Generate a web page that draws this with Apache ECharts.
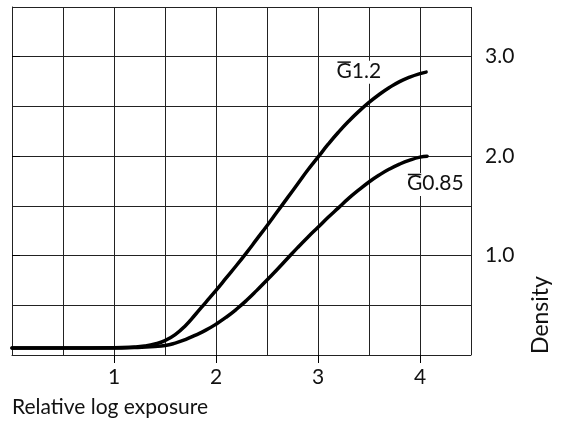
<!DOCTYPE html>
<html>
<head>
<meta charset="utf-8">
<script src="https://cdn.jsdelivr.net/npm/echarts@6/dist/echarts.min.js"></script>
<style>html,body{margin:0;padding:0;background:#fff}#c{width:562px;height:422px}</style>
</head>
<body>
<div id="c"></div>
<script>
// G1.2 curve (relative log exposure, density)
const g12X = [0, 0.5, 1.0, 1.2, 1.3, 1.4, 1.5, 1.6, 1.7, 1.8, 1.9, 2.0, 2.1, 2.2, 2.3, 2.4, 2.5, 2.6, 2.7, 2.8, 2.9, 3.0, 3.1, 3.2, 3.3, 3.4, 3.5, 3.6, 3.7, 3.8, 3.9, 4.0, 4.06];
const g12Y = [0.07, 0.07, 0.072, 0.08, 0.09, 0.11, 0.145, 0.205, 0.295, 0.41, 0.53, 0.65, 0.775, 0.9, 1.03, 1.165, 1.3, 1.44, 1.58, 1.72, 1.86, 1.99, 2.12, 2.24, 2.35, 2.45, 2.54, 2.62, 2.69, 2.75, 2.795, 2.83, 2.845];
// G0.85 curve
const g085X = [0, 0.5, 1.0, 1.2, 1.4, 1.5, 1.6, 1.7, 1.8, 1.9, 2.0, 2.1, 2.2, 2.3, 2.4, 2.5, 2.6, 2.7, 2.8, 2.9, 3.0, 3.1, 3.2, 3.3, 3.4, 3.5, 3.6, 3.7, 3.8, 3.9, 4.0, 4.07];
const g085Y = [0.07, 0.07, 0.07, 0.075, 0.085, 0.095, 0.12, 0.155, 0.2, 0.25, 0.31, 0.38, 0.46, 0.55, 0.65, 0.755, 0.86, 0.97, 1.08, 1.185, 1.285, 1.385, 1.48, 1.575, 1.66, 1.74, 1.81, 1.87, 1.92, 1.96, 1.99, 2.0];
const xTickValues = [1, 2, 3, 4];
const yTickValues = [1, 2, 3];
const seriesNames = ['G1.2', 'G0.85'];
const xAxisName = 'Relative log exposure';
const yAxisName = 'Density';

const FONT = 'Lato';
const FS = 21;
const chart = echarts.init(document.getElementById('c'));
const pairs = (xs, ys) => xs.map((x, i) => [x, ys[i]]);
const gridColor = '#222';

const gridAxisBase = {
  type: 'value', interval: 0.5,
  axisLine: { show: true, lineStyle: { color: gridColor, width: 1 } },
  splitLine: { show: true, showMinLine: true, showMaxLine: true, lineStyle: { color: gridColor, width: 1 } },
  axisTick: { show: false },
  axisLabel: { show: false }
};

chart.setOption({
  animation: false,
  grid: { left: 12, right: 91, top: 7, bottom: 67 },
  xAxis: [
    Object.assign({}, gridAxisBase, { min: 0, max: 4.5, position: 'bottom' }),
    {
      type: 'value', min: 0, max: 4.5, position: 'bottom', interval: 0.5,
      axisLine: { show: false }, splitLine: { show: false },
      axisTick: { show: true, customValues: xTickValues, length: 8, lineStyle: { color: '#000', width: 1 } },
      axisLabel: { customValues: xTickValues, fontSize: FS, fontFamily: FONT, color: '#111', margin: 12 }
    }
  ],
  yAxis: [
    Object.assign({}, gridAxisBase, { min: 0, max: 3.5, position: 'right' }),
    {
      type: 'value', min: 0, max: 3.5, position: 'right', interval: 0.5,
      axisLine: { show: false }, splitLine: { show: false },
      axisTick: { show: true, customValues: yTickValues, length: 8, lineStyle: { color: '#000', width: 1 } },
      axisLabel: { customValues: yTickValues, formatter: v => v.toFixed(1), fontSize: FS, fontFamily: FONT, color: '#111', margin: 14 }
    }
  ],
  series: [
    { name: seriesNames[0], type: 'line', xAxisIndex: 0, yAxisIndex: 0, data: pairs(g12X, g12Y),
      smooth: 0.5, showSymbol: false, lineStyle: { color: '#000', width: 3.5, join: 'round', cap: 'round' } },
    { name: seriesNames[1], type: 'line', xAxisIndex: 0, yAxisIndex: 0, data: pairs(g085X, g085Y),
      smooth: 0.5, showSymbol: false, lineStyle: { color: '#000', width: 3.5, join: 'round', cap: 'round' } }
  ]
});

// annotations (text with overline above G, white box over grid)
const ctx = document.createElement('canvas').getContext('2d');
ctx.font = FS + 'px ' + FONT;
const gW = ctx.measureText('G').width;
function label(text, dataPt) {
  const p = chart.convertToPixel({ xAxisIndex: 0, yAxisIndex: 0 }, dataPt);
  const w = ctx.measureText(text).width;
  const left = p[0] - w / 2;
  const top = p[1] - 11;
  return [
    { type: 'text', left: left - 3, top: top, z: 100,
      style: { text: text, fontSize: FS, fontFamily: FONT, fill: '#111', backgroundColor: '#fff', padding: [0, 3, 2, 3] } },
    { type: 'line', z: 101, shape: { x1: left + 1, y1: top + 1.5, x2: left + gW - 1, y2: top + 1.5 },
      style: { stroke: '#111', lineWidth: 1.5 } }
  ];
}
const graphics = [].concat(
  label(seriesNames[0], [3.40, 2.85]),
  label(seriesNames[1], [4.15, 1.72]),
  [
    { type: 'text', left: 12, top: 397, style: { text: xAxisName, fontSize: FS, fontFamily: FONT, fill: '#111' } },
    { type: 'text', x: 541, y: 315, rotation: Math.PI / 2,
      style: { text: yAxisName, fontSize: 23, fontFamily: FONT, fill: '#111', align: 'center', verticalAlign: 'middle' } }
  ]
);
chart.setOption({ graphic: graphics });
</script>
</body>
</html>
